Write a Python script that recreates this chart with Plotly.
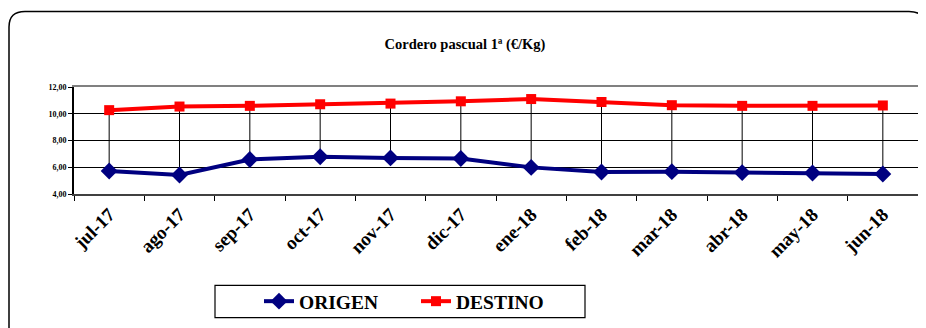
import plotly.graph_objects as go

months = ["jul-17", "ago-17", "sep-17", "oct-17", "nov-17", "dic-17",
          "ene-18", "feb-18", "mar-18", "abr-18", "may-18", "jun-18"]
origen = [5.72, 5.42, 6.58, 6.78, 6.70, 6.65, 5.99, 5.65, 5.67, 5.60, 5.57, 5.50]
destino = [10.27, 10.54, 10.59, 10.71, 10.76, 10.93, 11.10, 10.88, 10.64, 10.59, 10.59, 10.62]
y_ticks = [4, 6, 8, 10, 12]

OFF = 8  # page body margin
W, H = 926 - OFF, 328 - OFF
L, T = 74 - OFF, 87 - OFF
R = W - (918 - OFF)
B = H - (196 - OFF)
pw, ph = W - L - R, H - T - B

def px(xp):
    return (xp - OFF - L) / pw

def py(yp):
    return (H - B - (yp - OFF)) / ph

FONT = "Liberation Serif, Times New Roman, serif"

# high-low drop lines
dx, dy = [], []
for m, o, d in zip(months, origen, destino):
    dx += [m, m, None]
    dy += [o, d, None]

fig = go.Figure()
fig.add_trace(go.Scatter(x=dx, y=dy, mode="lines", line=dict(color="black", width=1),
                         showlegend=False, hoverinfo="skip"))
fig.add_trace(go.Scatter(x=months, y=origen, name="ORIGEN", mode="lines+markers",
                         line=dict(color="#000080", width=4),
                         marker=dict(symbol="diamond", size=13, color="#000080")))
fig.add_trace(go.Scatter(x=months, y=destino, name="DESTINO", mode="lines+markers",
                         line=dict(color="#ff0000", width=4),
                         marker=dict(symbol="square", size=10, color="#ff0000")))

# rounded outer frame
r = 16
x0, y0, x1, y1 = 9, 10, 925, 345
path = (f"M {px(x0)},{py(y1)} L {px(x0)},{py(y0 + r)} "
        f"Q {px(x0)},{py(y0)} {px(x0 + r)},{py(y0)} "
        f"L {px(x1 - r)},{py(y0)} Q {px(x1)},{py(y0)} {px(x1)},{py(y0 + r)} "
        f"L {px(x1)},{py(y1)}")

fig.update_layout(
    width=W, height=H,
    margin=dict(l=L, r=R, t=T, b=B),
    paper_bgcolor="white", plot_bgcolor="white",
    separators=",.",
    title=dict(text="<b>Cordero pascual 1ª (€/Kg)</b>", x=(465 - OFF) / W, xref="container",
               y=1 - (44 - OFF) / H, yref="container", xanchor="center", yanchor="middle",
               font=dict(family=FONT, size=14.5, color="black")),
    xaxis=dict(type="category", categoryorder="array", categoryarray=months,
               range=[-0.5, len(months) - 0.5],
               showgrid=False, showline=True, linecolor="#404040", linewidth=2,
               mirror=False, ticks="outside", tickson="boundaries", ticklen=5,
               tickcolor="black", tickangle=-45,
               tickfont=dict(family=FONT, size=19, color="black", weight="bold")),
    xaxis2=dict(overlaying="x", side="top", showline=True, linecolor="#808080",
                linewidth=2, showticklabels=False, showgrid=False, ticks="",
                matches="x"),
    yaxis=dict(range=[4, 12], tickvals=y_ticks, tickformat=".2f",
               showgrid=True, gridcolor="black", gridwidth=1,
               showline=True, linecolor="black", linewidth=2, ticks="outside",
               ticklen=4, tickcolor="black", zeroline=False,
               tickfont=dict(family=FONT, size=8, color="black", weight="bold")),
    yaxis2=dict(overlaying="y", side="right", showline=True, linecolor="#808080",
                linewidth=2, showticklabels=False, showgrid=False, ticks="",
                matches="y"),
    legend=dict(orientation="h", x=px(416), y=py(305.5), xanchor="center", yanchor="middle",
                borderwidth=0, bgcolor="rgba(0,0,0,0)",
                entrywidth=112, itemwidth=30,
                font=dict(family=FONT, size=19.5, color="black", weight="bold")),
    shapes=[dict(type="path", path=path, xref="paper", yref="paper",
                 line=dict(color="black", width=1.5), layer="below"),
            dict(type="rect", xref="paper", yref="paper",
                 x0=px(215), x1=px(585), y0=py(322), y1=py(289),
                 line=dict(color="black", width=1.2), fillcolor="white", layer="below")],
    showlegend=True,
)
# invisible trace to activate secondary axes (frame top/right)
fig.add_trace(go.Scatter(x=[months[0]], y=[4], xaxis="x2", yaxis="y2", mode="markers",
                         marker=dict(opacity=0), showlegend=False, hoverinfo="skip"))

fig.write_html("out.html")
